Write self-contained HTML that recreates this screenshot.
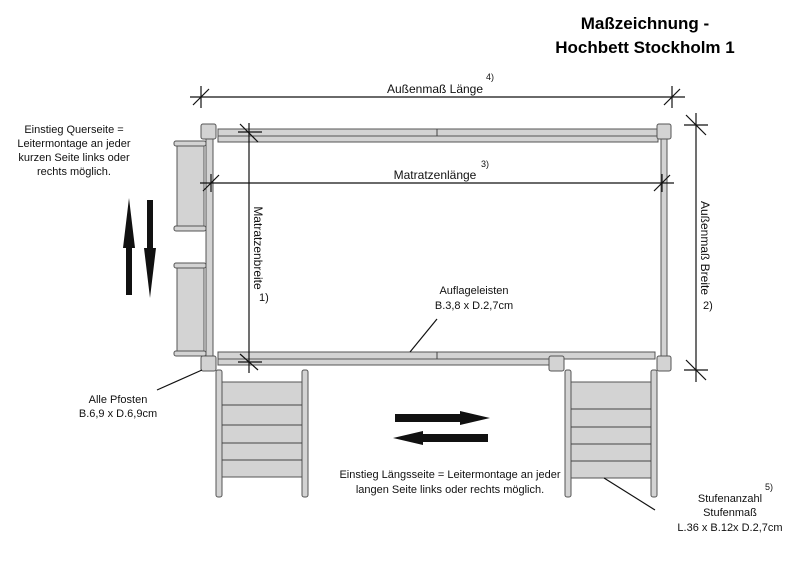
<!DOCTYPE html>
<html><head><meta charset="utf-8"><style>
body{margin:0;background:#fff}
svg{display:block;font-family:"Liberation Sans",sans-serif}
</style></head><body>
<svg width="800" height="566" viewBox="0 0 800 566" xmlns="http://www.w3.org/2000/svg">
<rect width="800" height="566" fill="#fff"/>
<text x="645" y="29" font-size="17" font-weight="bold" text-anchor="middle">Maßzeichnung -</text>
<text x="645" y="53" font-size="17" font-weight="bold" text-anchor="middle">Hochbett Stockholm 1</text>

<g fill="#d3d3d3" stroke="#555" stroke-width="1">
<!-- top rail -->
<rect x="218" y="129" width="440" height="7"/>
<rect x="218" y="136" width="440" height="6"/>
<!-- bottom rail -->
<rect x="218" y="352" width="437" height="7"/>
<rect x="218" y="359" width="335" height="6"/>
<!-- side rails -->
<rect x="206" y="139" width="7" height="217"/>
<rect x="661" y="139" width="6" height="217"/>
<!-- left ladder -->
<rect x="177" y="146" width="27" height="80"/>
<rect x="177" y="268" width="27" height="83"/>
<rect x="174" y="141" width="32" height="5" rx="2"/>
<rect x="174" y="226" width="32" height="5" rx="2"/>
<rect x="174" y="263" width="32" height="5" rx="2"/>
<rect x="174" y="351" width="32" height="5" rx="2"/>
<!-- bottom-left ladder -->
<rect x="216" y="370" width="6" height="127" rx="2"/>
<rect x="302" y="370" width="6" height="127" rx="2"/>
<rect x="222" y="382" width="80" height="95"/>
<!-- bottom-right ladder -->
<rect x="565" y="370" width="6" height="127" rx="2"/>
<rect x="651" y="370" width="6" height="127" rx="2"/>
<rect x="571" y="382" width="80" height="96"/>
<!-- posts -->
<rect x="201" y="124" width="15" height="15" rx="2"/>
<rect x="657" y="124" width="14" height="15" rx="2"/>
<rect x="201" y="356" width="15" height="15" rx="2"/>
<rect x="657" y="356" width="14" height="15" rx="2"/>
<rect x="549" y="356" width="15" height="15" rx="2"/>
</g>
<g stroke="#444" stroke-width="1">
<line x1="222" y1="405" x2="302" y2="405"/><line x1="222" y1="425" x2="302" y2="425"/>
<line x1="222" y1="443" x2="302" y2="443"/><line x1="222" y1="460" x2="302" y2="460"/>
<line x1="571" y1="409" x2="651" y2="409"/><line x1="571" y1="427" x2="651" y2="427"/>
<line x1="571" y1="444" x2="651" y2="444"/><line x1="571" y1="461" x2="651" y2="461"/>
<line x1="437" y1="352" x2="437" y2="359"/><line x1="437" y1="129" x2="437" y2="136"/>
</g>

<!-- dimension lines -->
<g stroke="#111" stroke-width="1.2" fill="none">
<line x1="190" y1="97" x2="685" y2="97"/>
<line x1="201" y1="86" x2="201" y2="108"/><line x1="672" y1="86" x2="672" y2="108"/>
<line x1="193" y1="105" x2="209" y2="89"/><line x1="664" y1="105" x2="680" y2="89"/>
<line x1="200" y1="183" x2="674" y2="183"/>
<line x1="211" y1="174" x2="211" y2="192"/><line x1="662" y1="174" x2="662" y2="192"/>
<line x1="203" y1="191" x2="219" y2="175"/><line x1="654" y1="191" x2="670" y2="175"/>
<line x1="249" y1="123" x2="249" y2="373"/>
<line x1="238" y1="132" x2="262" y2="132"/><line x1="238" y1="362" x2="262" y2="362"/>
<line x1="240" y1="124" x2="258" y2="142"/><line x1="240" y1="354" x2="258" y2="370"/>
<line x1="696" y1="113" x2="696" y2="382"/>
<line x1="684" y1="125" x2="708" y2="125"/><line x1="684" y1="370" x2="708" y2="370"/>
<line x1="686" y1="115" x2="706" y2="135"/><line x1="686" y1="360" x2="706" y2="380"/>
<!-- leaders -->
<line x1="202" y1="370" x2="157" y2="390"/>
<line x1="410" y1="352" x2="437" y2="319"/>
<line x1="604" y1="478" x2="655" y2="510"/>
</g>

<!-- arrows -->
<g fill="#111">
<polygon points="129,198 135,248 132,248 132,295 126,295 126,248 123,248"/>
<polygon points="147,200 153,200 153,248 156,248 150,298 144,248 147,248"/>
<polygon points="395,414 460,414 460,411 490,418 460,425 460,422 395,422"/>
<polygon points="393,438 423,431 423,434 488,434 488,442 423,442 423,445"/>
</g>

<g font-size="12" fill="#111">
<text x="435" y="93" text-anchor="middle">Außenmaß Länge</text>
<text x="486" y="80" font-size="9">4)</text>
<text x="435" y="179" text-anchor="middle">Matratzenlänge</text>
<text x="481" y="167" font-size="9">3)</text>
<text transform="translate(254,248) rotate(90)" text-anchor="middle">Matratzenbreite</text>
<text x="259" y="301" font-size="11">1)</text>
<text transform="translate(701,248) rotate(90)" text-anchor="middle">Außenmaß Breite</text>
<text x="703" y="309" font-size="11">2)</text>
<text x="474" y="294" text-anchor="middle" font-size="11">Auflageleisten</text>
<text x="474" y="309" text-anchor="middle" font-size="11">B.3,8 x D.2,7cm</text>
<g font-size="11" text-anchor="middle">
<text x="74" y="133">Einstieg Querseite =</text>
<text x="74" y="147">Leitermontage an jeder</text>
<text x="74" y="161">kurzen Seite links oder</text>
<text x="74" y="175">rechts möglich.</text>
<text x="118" y="403">Alle Pfosten</text>
<text x="118" y="417">B.6,9 x D.6,9cm</text>
<text x="450" y="478">Einstieg Längsseite = Leitermontage an jeder</text>
<text x="450" y="493">langen Seite links oder rechts möglich.</text>
<text x="730" y="502">Stufenanzahl</text>
<text x="730" y="516">Stufenmaß</text>
<text x="730" y="531">L.36 x B.12x D.2,7cm</text>
</g>
<text x="765" y="490" font-size="9">5)</text>
</g>
</svg>
</body></html>
